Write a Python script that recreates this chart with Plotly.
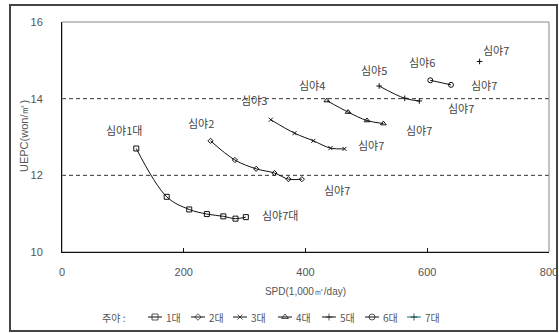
import plotly.graph_objects as go

# ---- data ----
s1_x = [122, 172, 209, 238, 265, 285, 302]
s1_y = [12.70, 11.44, 11.11, 10.99, 10.93, 10.87, 10.91]
s2_x = [244, 284, 319, 349, 372, 394]
s2_y = [12.90, 12.40, 12.17, 12.06, 11.90, 11.90]
s3_x = [343, 382, 413, 441, 464]
s3_y = [13.45, 13.10, 12.90, 12.71, 12.69]
s4_x = [435, 470, 501, 528]
s4_y = [13.95, 13.65, 13.43, 13.35]
s5_x = [521, 563, 587]
s5_y = [14.33, 14.01, 13.94]
s6_x = [605, 639]
s6_y = [14.48, 14.36]
s7_x = [686]
s7_y = [14.97]

series_names = ["1대", "2대", "3대", "4대", "5대", "6대", "7대"]
legend_title = "주야 :"
x_title = "SPD(1,000㎥/day)"
y_title = "UEPC(won/㎡)"

label_text = ["심야1대", "심야2", "심야3", "심야4", "심야5", "심야6", "심야7",
              "심야7대", "심야7", "심야7", "심야7", "심야7", "심야7"]
label_x = [102, 228, 315, 411, 512, 591, 713, 358, 452, 507, 586, 655, 693]
label_y = [13.19, 13.37, 13.97, 14.36, 14.75, 14.96, 15.28,
           10.97, 11.62, 12.80, 13.19, 13.76, 14.36]

ref_lines = [12, 14]
x_ticks = [0, 200, 400, 600, 800]
y_ticks = [10, 12, 14, 16]

# ---- style ----
W, H = 559, 333
PL, PR, PT, PB = 62, 549, 22, 252          # plot area in pixels
KFONT = "Noto Sans CJK KR, Noto Sans, sans-serif"
NFONT = "Liberation Sans, Arial, sans-serif"
TXT = "#555"

xs = [s1_x, s2_x, s3_x, s4_x, s5_x, s6_x, s7_x]
ys = [s1_y, s2_y, s3_y, s4_y, s5_y, s6_y, s7_y]
symbols = ["square-open", "diamond-open", "x-thin-open", "triangle-up-open",
           "cross-thin-open", "circle-open", "cross-thin-open"]
sizes = [5, 4, 4, 5, 4, 5, 4]
line_colors = ["#111", "#111", "#111", "#111", "#111", "#111", "#008080"]
legend_glyph_px = [148, 191, 233, 278, 322, 365, 407]   # legend glyph left edges
legend_row_px = 317

fig = go.Figure()
for i in range(7):
    fig.add_trace(go.Scatter(
        x=xs[i], y=ys[i], name=series_names[i], showlegend=False,
        mode="lines+markers",
        line=dict(color=line_colors[i], width=1, shape="spline", smoothing=1),
        marker=dict(symbol=symbols[i], size=sizes[i], color="#111",
                    line=dict(color="#111", width=1)),
        xaxis="x", yaxis="y",
    ))

# manual legend drawn on a pixel-scaled helper subplot at the bottom
ly = H - legend_row_px
for i in range(7):
    g = legend_glyph_px[i]
    fig.add_trace(go.Scatter(
        x=[g, g + 7, g + 14], y=[ly, ly, ly], mode="lines+markers",
        showlegend=False, hoverinfo="skip", cliponaxis=False,
        line=dict(color=line_colors[i], width=1),
        marker=dict(symbol=symbols[i], size=[0, sizes[i] + 1, 0], color="#111",
                    line=dict(color="#111", width=1)),
        xaxis="x2", yaxis="y2",
    ))
    fig.add_annotation(x=g + 16, y=ly, xref="x2", yref="y2", text=series_names[i],
                       showarrow=False, xanchor="left",
                       font=dict(family=KFONT, size=10, color=TXT))
fig.add_annotation(x=100, y=ly, xref="x2", yref="y2", text=legend_title,
                   showarrow=False, xanchor="left",
                   font=dict(family=KFONT, size=10, color=TXT))

for t, x, y in zip(label_text, label_x, label_y):
    fig.add_annotation(x=x, y=y, text=t, showarrow=False,
                       font=dict(family=KFONT, size=11, color="#444"))

# y axis title
fig.add_annotation(x=24 / W, y=(H - 136) / H, xref="paper", yref="paper",
                   xanchor="center", yanchor="middle",
                   text=y_title, textangle=-90, showarrow=False,
                   font=dict(family=NFONT, size=11, color=TXT))

for v in ref_lines:
    fig.add_shape(type="line", xref="x domain", x0=0, x1=1, yref="y", y0=v, y1=v,
                  line=dict(color="#333", width=1, dash="4px,3px"), layer="below")

# plot frame (grey top/right)
fig.add_shape(type="rect", xref="x domain", yref="y domain", x0=0, x1=1, y0=0, y1=1,
              line=dict(color="#888", width=1), layer="below")
# outer frame
fig.add_shape(type="rect", xref="paper", yref="paper",
              x0=10 / W, x1=557 / W, y0=2 / H, y1=(H - 5) / H,
              line=dict(color="#444", width=2))

fig.update_layout(
    width=W, height=H,
    margin=dict(l=0, r=0, t=0, b=0, autoexpand=False),
    paper_bgcolor="white", plot_bgcolor="rgba(0,0,0,0)",
    showlegend=False,
    xaxis=dict(domain=[PL / W, PR / W], range=[0, 800], tickvals=x_ticks,
               showgrid=False, zeroline=False, automargin=False,
               showline=True, linecolor="#111", linewidth=1,
               ticks="inside", ticklen=4, tickcolor="#111",
               ticklabelstandoff=10,
               tickfont=dict(family=NFONT, size=11, color=TXT),
               title=dict(text=x_title, standoff=10,
                          font=dict(family=NFONT, size=10, color=TXT))),
    yaxis=dict(domain=[(H - PB) / H, (H - PT) / H], range=[10, 16], tickvals=y_ticks,
               showgrid=False, zeroline=False, automargin=False,
               showline=True, linecolor="#111", linewidth=1,
               ticks="", ticklabelstandoff=16,
               tickfont=dict(family=NFONT, size=11, color=TXT)),
    xaxis2=dict(domain=[0, 1], range=[0, W], visible=False, fixedrange=True,
                anchor="y2"),
    yaxis2=dict(domain=[0, (H - PB - 2) / H], range=[0, H - PB - 2], visible=False,
                fixedrange=True, anchor="x2"),
)

fig.write_html("out.html")
